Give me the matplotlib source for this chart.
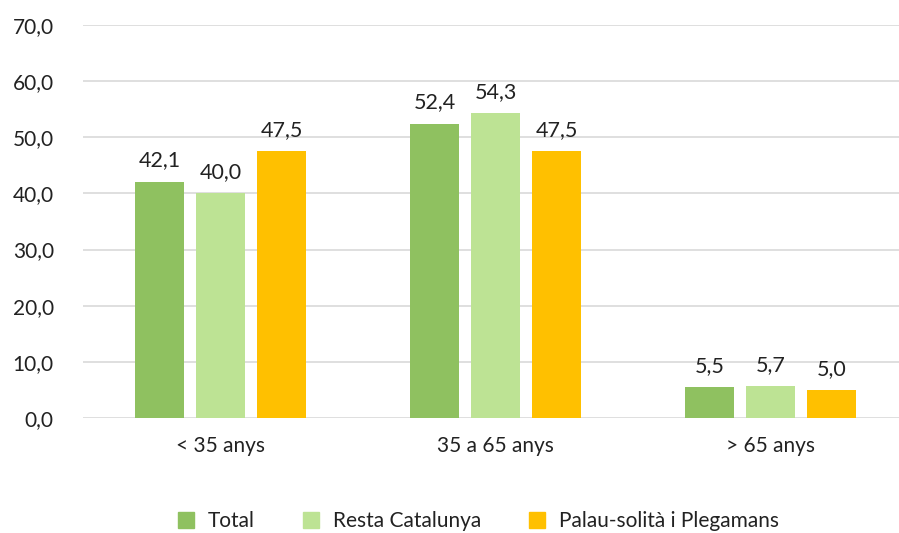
import numpy as np
import matplotlib.pyplot as plt
from matplotlib.lines import Line2D

categories = ["< 35 anys", "35 a 65 anys", "> 65 anys"]
series_names = ["Total", "Resta Catalunya", "Palau-solità i Plegamans"]
total = [42.1, 52.4, 5.5]
resta = [40.0, 54.3, 5.7]
palau = [47.5, 47.5, 5.0]
colors = ["#8fc160", "#bde394", "#ffc000"]

plt.rcParams['font.family'] = ['Lato', 'DejaVu Sans']

fig = plt.figure(figsize=(8.99, 5.33), dpi=100)
ax = fig.add_axes([83 / 899, 1 - 418 / 533, 825 / 899, 393 / 533])

x = np.arange(len(categories))
width = 0.175
step = 0.222
for i, (vals, name) in enumerate(zip([total, resta, palau], series_names)):
    pos = x + (i - 1) * step
    ax.bar(pos, vals, width, color=colors[i], label=name, zorder=3)
    for p, v in zip(pos, vals):
        ax.text(p, v + 2.0, f"{v:.1f}".replace(".", ","), ha="center", va="bottom",
                fontsize=15.5, color="#222222")

ax.set_xlim(-0.5, 2.5)
ax.set_ylim(0, 70)
ax.set_yticks(np.arange(0, 71, 10))
ax.set_yticklabels([f"{t:.1f}".replace(".", ",") for t in np.arange(0, 71, 10)])
ax.set_xticks(x)
ax.set_xticklabels(categories)
ax.tick_params(axis="both", length=0, labelsize=15, colors="#222222")
ax.tick_params(axis="y", pad=21)
ax.tick_params(axis="x", pad=13)
ax.grid(axis="y", color="#d9d9d9", linewidth=1.2, zorder=0)
for s in ax.spines.values():
    s.set_visible(False)

handles = [Line2D([], [], marker="s", linestyle="", markersize=11, color=c) for c in colors]
fig.legend(handles, series_names, loc="lower center", bbox_to_anchor=(0.525, -0.032),
           ncol=3, frameon=False, fontsize=15, handletextpad=0.05, columnspacing=1.7,
           labelcolor="#222222")

fig.savefig("out.png", dpi=100)
